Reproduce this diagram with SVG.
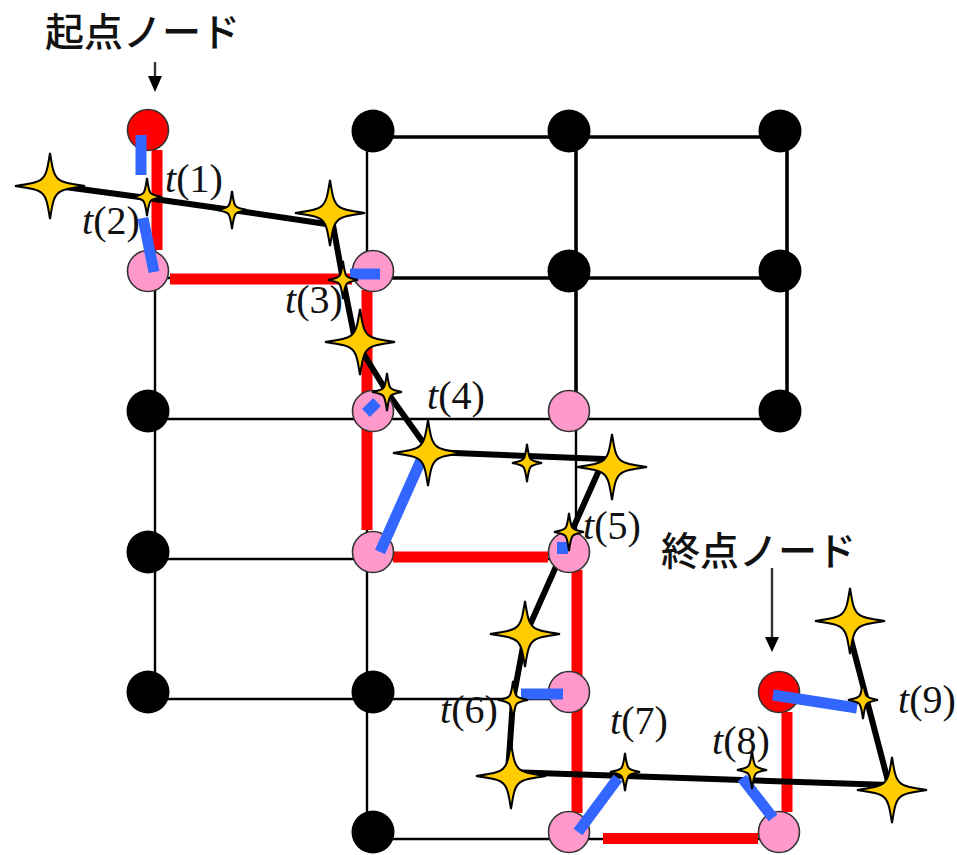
<svg xmlns="http://www.w3.org/2000/svg" xmlns:xlink="http://www.w3.org/1999/xlink" width="957" height="855" viewBox="0 0 957 855">
  <style>
    .grid { stroke: #000; stroke-width: 2.4; fill: none; }
    .grid-bold { stroke: #000; stroke-width: 3.6; fill: none; }
    .route { stroke: #ff0000; stroke-width: 11; fill: none; stroke-linecap: butt; }
    .match { stroke: #3366ff; stroke-width: 11; fill: none; stroke-linecap: butt; }
    .traj { stroke: #000; stroke-width: 6; fill: none; stroke-linejoin: round; }
    .star { fill: #ffcc00; stroke: #000; stroke-width: 2; stroke-linejoin: miter; }
    .n-black { fill: #000; }
    .n-pink { fill: #ff99cc; stroke: #333; stroke-width: 1.6; }
    .n-red { fill: #ff0000; stroke: #333; stroke-width: 1.6; }
    .lbl { font-family: "Liberation Serif", "Times New Roman", serif; font-size: 40px; fill: #111; }
    .lbl tspan.it { font-style: italic; }
    .title { font-family: "Noto Sans CJK JP", "Noto Sans", sans-serif; font-size: 39px; font-weight: 500; fill: #111; }
    .arrow { stroke: #333; stroke-width: 2.4; fill: none; }
    .head { fill: #000; }
  </style>
  <defs>
    <path id="bigStar" class="star" d="M0,-33 C4.5,-4.5 4.5,-4.5 35,0 C4.5,4.5 4.5,4.5 0,33 C-4.5,4.5 -4.5,4.5 -35,0 C-4.5,-4.5 -4.5,-4.5 0,-33 Z"/>
    <path id="smallStar" class="star" d="M0,-19 C2.2,-2.2 2.2,-2.2 15,0 C2.2,2.2 2.2,2.2 0,19 C-2.2,2.2 -2.2,2.2 -15,0 C-2.2,-2.2 -2.2,-2.2 0,-19 Z"/>
  </defs>

  <rect width="957" height="855" fill="#fff"/>

  <!-- grid edges -->
  <g id="connectors">
    <line class="grid-bold" x1="367" y1="137" x2="787" y2="137"/>
    <line class="grid" x1="155" y1="278" x2="367" y2="278"/>
    <line class="grid-bold" x1="367" y1="278" x2="787" y2="278"/>
    <line class="grid" x1="155" y1="419" x2="787" y2="419"/>
    <line class="grid" x1="155" y1="559" x2="576" y2="559"/>
    <line class="grid" x1="155" y1="699" x2="576" y2="699"/>
    <line class="grid" x1="367" y1="839" x2="779" y2="839"/>
    <line class="grid" x1="155" y1="137" x2="155" y2="699"/>
    <line class="grid" x1="367" y1="137" x2="367" y2="839"/>
    <line class="grid-bold" x1="576" y1="137" x2="576" y2="419"/>
    <line class="grid" x1="576" y1="419" x2="576" y2="839"/>
    <line class="grid-bold" x1="787" y1="137" x2="787" y2="419"/>
  </g>

  <!-- matched route along the grid -->
  <g id="route">
    <line class="route" x1="157" y1="150" x2="157" y2="250"/>
    <line class="route" x1="170" y1="279" x2="352" y2="279"/>
    <line class="route" x1="367" y1="290" x2="367" y2="530"/>
    <line class="route" x1="393" y1="557" x2="548" y2="557"/>
    <line class="route" x1="577" y1="570" x2="577" y2="813"/>
    <line class="route" x1="603" y1="838.5" x2="758" y2="838.5"/>
    <line class="route" x1="787" y1="712" x2="787" y2="812"/>
  </g>

  <!-- observed trajectory -->
  <g id="trajectory">
    <polyline class="traj" points="50,185 147,198 232,210 333,225 343,280 355,340 387,392 430,452 604,459 525,636 513,700 508,772 889,785 849,632"/>
  </g>

  <!-- grid nodes -->
  <g id="node-r0c0"><circle class="n-red" cx="148" cy="130" r="20.5"/></g>
  <g id="node-r0c1"><circle class="n-black" cx="373" cy="131" r="21.5"/></g>
  <g id="node-r0c2"><circle class="n-black" cx="569" cy="131" r="21.5"/></g>
  <g id="node-r0c3"><circle class="n-black" cx="780" cy="131" r="21.5"/></g>
  <g id="node-r1c0"><circle class="n-pink" cx="148" cy="271" r="20.5"/></g>
  <g id="node-r1c1"><circle class="n-pink" cx="373" cy="271" r="20.5"/></g>
  <g id="node-r1c2"><circle class="n-black" cx="569" cy="271" r="21.5"/></g>
  <g id="node-r1c3"><circle class="n-black" cx="780" cy="271" r="21.5"/></g>
  <g id="node-r2c0"><circle class="n-black" cx="148" cy="411" r="21.5"/></g>
  <g id="node-r2c1"><circle class="n-pink" cx="373" cy="411" r="20.5"/></g>
  <g id="node-r2c2"><circle class="n-pink" cx="569" cy="411" r="20.5"/></g>
  <g id="node-r2c3"><circle class="n-black" cx="780" cy="411" r="21.5"/></g>
  <g id="node-r3c0"><circle class="n-black" cx="148" cy="552" r="21.5"/></g>
  <g id="node-r3c1"><circle class="n-pink" cx="373" cy="552" r="20.5"/></g>
  <g id="node-r3c2"><circle class="n-pink" cx="569" cy="552" r="20.5"/></g>
  <g id="node-r4c0"><circle class="n-black" cx="148" cy="692" r="21.5"/></g>
  <g id="node-r4c1"><circle class="n-black" cx="373" cy="692" r="21.5"/></g>
  <g id="node-r4c2"><circle class="n-pink" cx="569" cy="692" r="20.5"/></g>
  <g id="node-r4c3"><circle class="n-red" cx="779" cy="692" r="20.5"/></g>
  <g id="node-r5c1"><circle class="n-black" cx="373" cy="832" r="21.5"/></g>
  <g id="node-r5c2"><circle class="n-pink" cx="569" cy="832" r="20.5"/></g>
  <g id="node-r5c3"><circle class="n-pink" cx="779" cy="832" r="20.5"/></g>

  <!-- links from sample points to matched positions -->
  <g id="matches">
    <line class="match" x1="141" y1="135" x2="141" y2="175"/>
    <line class="match" x1="143" y1="218" x2="154" y2="272"/>
    <line class="match" x1="350" y1="274" x2="380" y2="274"/>
    <line class="match" x1="366" y1="413" x2="377" y2="402"/>
    <line class="match" x1="380" y1="552" x2="422" y2="458"/>
    <line class="match" x1="562.5" y1="542" x2="562.5" y2="554"/>
    <line class="match" x1="521" y1="694" x2="563" y2="694"/>
    <line class="match" x1="578" y1="832" x2="618" y2="778"/>
    <line class="match" x1="742" y1="778" x2="773" y2="818"/>
    <line class="match" x1="773" y1="695" x2="857" y2="708"/>
  </g>

  <!-- sample points -->
  <g id="samples">
    <use xlink:href="#bigStar" x="50" y="186"/>
    <use xlink:href="#smallStar" x="147" y="197"/>
    <use xlink:href="#smallStar" x="232" y="210"/>
    <use xlink:href="#bigStar" x="330" y="213"/>
    <use xlink:href="#smallStar" x="343" y="280"/>
    <use xlink:href="#bigStar" x="360" y="342"/>
    <use xlink:href="#smallStar" x="387" y="392"/>
    <use xlink:href="#bigStar" x="428" y="453"/>
    <use xlink:href="#smallStar" x="527" y="463"/>
    <use xlink:href="#bigStar" x="612" y="467"/>
    <use xlink:href="#smallStar" x="569" y="532"/>
    <use xlink:href="#bigStar" x="525" y="634"/>
    <use xlink:href="#smallStar" x="513" y="700"/>
    <use xlink:href="#bigStar" x="511" y="776"/>
    <use xlink:href="#smallStar" x="625" y="772"/>
    <use xlink:href="#smallStar" x="752" y="770"/>
    <use xlink:href="#bigStar" x="892" y="790"/>
    <use xlink:href="#smallStar" x="863" y="700"/>
    <use xlink:href="#bigStar" x="850" y="621"/>
  </g>

  <!-- sample labels -->
  <g id="labels">
    <text class="lbl" x="165" y="192"><tspan class="it">t</tspan>(1)</text>
    <text class="lbl" x="82" y="234"><tspan class="it">t</tspan>(2)</text>
    <text class="lbl" x="285" y="313"><tspan class="it">t</tspan>(3)</text>
    <text class="lbl" x="427" y="409"><tspan class="it">t</tspan>(4)</text>
    <text class="lbl" x="583" y="539"><tspan class="it">t</tspan>(5)</text>
    <text class="lbl" x="440" y="723"><tspan class="it">t</tspan>(6)</text>
    <text class="lbl" x="610" y="734"><tspan class="it">t</tspan>(7)</text>
    <text class="lbl" x="712" y="754"><tspan class="it">t</tspan>(8)</text>
    <text class="lbl" x="898" y="713"><tspan class="it">t</tspan>(9)</text>
  </g>

  <!-- start / end captions -->
  <g id="start-caption">
    <text class="title" x="45" y="46">起点ノード</text>
    <line class="arrow" x1="155" y1="62" x2="155" y2="77"/>
    <polygon class="head" points="148,76 162,76 155,92"/>
  </g>
  <g id="end-caption">
    <text class="title" x="661" y="565">終点ノード</text>
    <line class="arrow" x1="772" y1="568" x2="772" y2="638"/>
    <polygon class="head" points="765,637 779,637 772,652"/>
  </g>
</svg>
